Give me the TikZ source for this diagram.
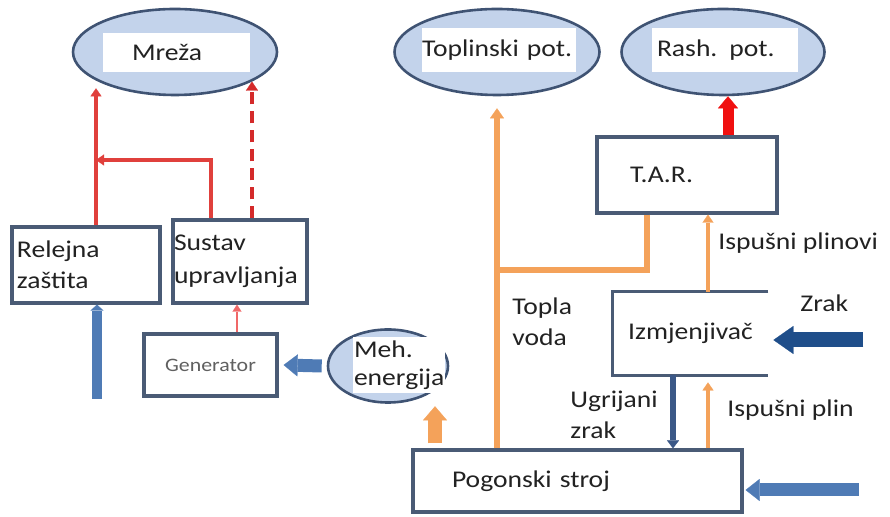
\documentclass[tikz,border=0pt]{standalone}
\usepackage{fontspec}
\setmainfont{Carlito}[FakeStretch=1.15]
\usepackage{xcolor}
\usetikzlibrary{arrows.meta,shapes.geometric}

\definecolor{rub}{HTML}{4A5B75}
\definecolor{elrub}{HTML}{3F5373}
\definecolor{elpoz}{HTML}{C3D3EB}
\definecolor{crv}{HTML}{E0403C}
\definecolor{crvt}{HTML}{D42A2A}
\definecolor{crvs}{HTML}{F06868}
\definecolor{crvj}{HTML}{F01010}
\definecolor{nar}{HTML}{F4A25A}
\definecolor{pl}{HTML}{4F7BB5}
\definecolor{tpl}{HTML}{1F4E8A}
\definecolor{spl}{HTML}{3B5887}
\definecolor{txt}{HTML}{222222}

\begin{document}
\begin{tikzpicture}[x=0.5pt, y=-0.5pt,
  every node/.style={font=\fontsize{12}{15.5}\selectfont, text=txt},
  blok/.style={rectangle, draw=rub, line width=1.6pt, fill=white,
               align=left, inner ysep=0pt},
  potr/.style={ellipse, draw=elrub, line width=1.3pt, fill=elpoz,
               inner sep=0pt},
  natpis/.style={rectangle, fill=white, align=left, inner ysep=0pt},
  oznaka/.style={anchor=west, align=left, inner sep=0pt},
  crvena/.style={draw=crv, line width=1.6pt,
                 -{Triangle[width=5.5pt,length=4pt,line width=0.1pt]}},
  crvcrt/.style={draw=crvt, line width=2.2pt, dash pattern=on 6pt off 3.5pt,
                 -{Triangle[width=6pt,length=4.5pt,line width=0.1pt]}},
  crvtanka/.style={draw=crvs, line width=1.1pt,
                   -{Triangle[width=4.5pt,length=3.5pt,line width=0.1pt]}},
  crvdeb/.style={draw=crvj, line width=5.5pt,
                 -{Triangle[width=10pt,length=6pt,line width=0.1pt]}},
  narlin/.style={draw=nar, line width=2.8pt},
  nar/.style={narlin, -{Triangle[width=7pt,length=5pt,line width=0.1pt]}},
  nartanka/.style={draw=nar, line width=2.2pt,
                   -{Triangle[width=5.5pt,length=4pt,line width=0.1pt]}},
  nardeb/.style={draw=nar, line width=7pt,
                 -{Triangle[width=12pt,length=7pt,line width=0.1pt]}},
  plava/.style={draw=pl, line width=6.5pt,
                -{Triangle[width=11pt,length=7pt,line width=0.1pt]}},
  plavauska/.style={draw=pl, line width=5pt,
                    -{Triangle[width=6.5pt,length=3pt,line width=0.1pt]}},
  tamnoplava/.style={draw=tpl, line width=7.5pt,
                     -{Triangle[width=14pt,length=10pt,line width=0.1pt]}},
  plavtanka/.style={draw=spl, line width=2.6pt,
                    -{Triangle[width=6pt,length=4pt,line width=0.1pt]}}]

\useasboundingbox (0,0) rectangle (890,517);

\node[potr, minimum width=102pt, minimum height=43pt] (mreza) at (175,52) {};
\node[natpis, minimum height=19.5pt, text width=44.5pt, inner xsep=14.5pt] (mrezat) at (176.5,52.5) {Mreža};
\node[potr, minimum width=102.5pt, minimum height=43pt] (toplinski) at (497,52) {};
\node[natpis, minimum height=22pt, text width=77pt, inner xsep=0pt] (toplinskit) at (499,50) {Toplinski pot.};
\node[potr, minimum width=101.5pt, minimum height=43pt] (rash) at (723,52) {};
\node[natpis, minimum height=22pt, text width=68pt, inner xsep=2.5pt] (rasht) at (725,50) {Rash. pot.};
\node[potr, minimum width=60pt, minimum height=36.5pt] (meh) at (388,366) {};
\node[natpis, minimum height=28pt, text width=45pt, inner xsep=0.5pt,
      font=\fontsize{12}{14}\selectfont] (meht) at (399,365) {Meh.\\energija};

\node[blok, minimum height=38pt, text width=69pt, inner xsep=2.5pt] (relejna) at (86,265) {Relejna\\zaštita};
\node[blok, minimum height=41.5pt, text width=66pt, inner xsep=0.5pt,
      font=\fontsize{12}{16.5}\selectfont] (sustav) at (240,261.5) {Sustav\\upravljanja};
\node[blok, minimum height=31pt, text width=66.5pt, inner xsep=0pt, align=center,
      font=\fontsize{9.5}{11}\selectfont, text=gray!75!black] (generator) at (210.5,365) {Generator};
\node[blok, minimum height=38pt, text width=57pt, inner xsep=16.5pt] (tar) at (687,175) {T.A.R.};
\node[minimum width=77.5pt, minimum height=41.5pt, inner sep=0pt] (izmj) at (690.5,333.5) {Izmjenjivač};
\draw[rub, line width=1.8pt] (izmj.north east) -| (izmj.south west) -- (izmj.south east);
\node[blok, minimum height=31pt, text width=125.5pt, inner xsep=19.5pt] (pogonski) at (577.5,481) {Pogonski stroj};

\node[oznaka] (topla) at (512,322) {Topla\\voda};
\node[oznaka] (ispplinovi) at (718,243) {Ispušni plinovi};
\node[oznaka] (zrak) at (800,303) {Zrak};
\node[oznaka] (ugrijani) at (570,415) {Ugrijani\\zrak};
\node[oznaka] (ispplin) at (727,410) {Ispušni plin};

\coordinate (rcvor) at (96,160);
\coordinate (vcvor) at (497,270);

\draw[crvena, shorten >=-4pt] (rcvor |- relejna.north) -- (rcvor |- mreza.south);
\draw[crvena] ([xshift=-14.5pt]sustav.north) |- (rcvor);
\draw[crvcrt] (mreza.-21 |- sustav.north) -- (mreza.-21);
\draw[crvtanka] ([xshift=13.25pt]generator.north) -- ([xshift=13.25pt]generator.north |- sustav.south);
\draw[plavauska] ([xshift=5.5pt,yshift=-47pt]relejna.south) -- ([xshift=5.5pt]relejna.south);
\draw[plava] ([xshift=-2.5pt]meh.west) -- ([xshift=2.5pt]generator.east);
\draw[nardeb, shorten <=2.5pt] ([xshift=23.5pt]meh.south |- pogonski.north) -- ([xshift=23.5pt,yshift=-1.25pt]meh.south);
\draw[nar] (toplinski.south |- pogonski.north) -- ([yshift=-6pt]toplinski.south);
\draw[narlin] ([xshift=-20pt]tar.south) |- (vcvor);
\draw[nartanka] ([xshift=8.75pt]izmj.north) -- ([xshift=8.75pt]izmj.north |- tar.south);
\draw[crvdeb] ([xshift=20.5pt]tar.north) -- ([xshift=20.5pt]tar.north |- rash.south);
\draw[tamnoplava] ([xshift=47.5pt,yshift=-3.25pt]izmj.east) -- ([xshift=2.5pt,yshift=-3.25pt]izmj.east);
\draw[plavtanka] ([xshift=-8.75pt]izmj.south) -- ([xshift=-8.75pt]izmj.south |- pogonski.north);
\draw[nartanka] ([xshift=8.75pt]izmj.south |- pogonski.north) -- ([xshift=8.75pt,yshift=-3.5pt]izmj.south);
\draw[plava] ([xshift=57.5pt,yshift=-4.5pt]pogonski.east) -- ([xshift=1pt,yshift=-4.5pt]pogonski.east);
\end{tikzpicture}
\end{document}
